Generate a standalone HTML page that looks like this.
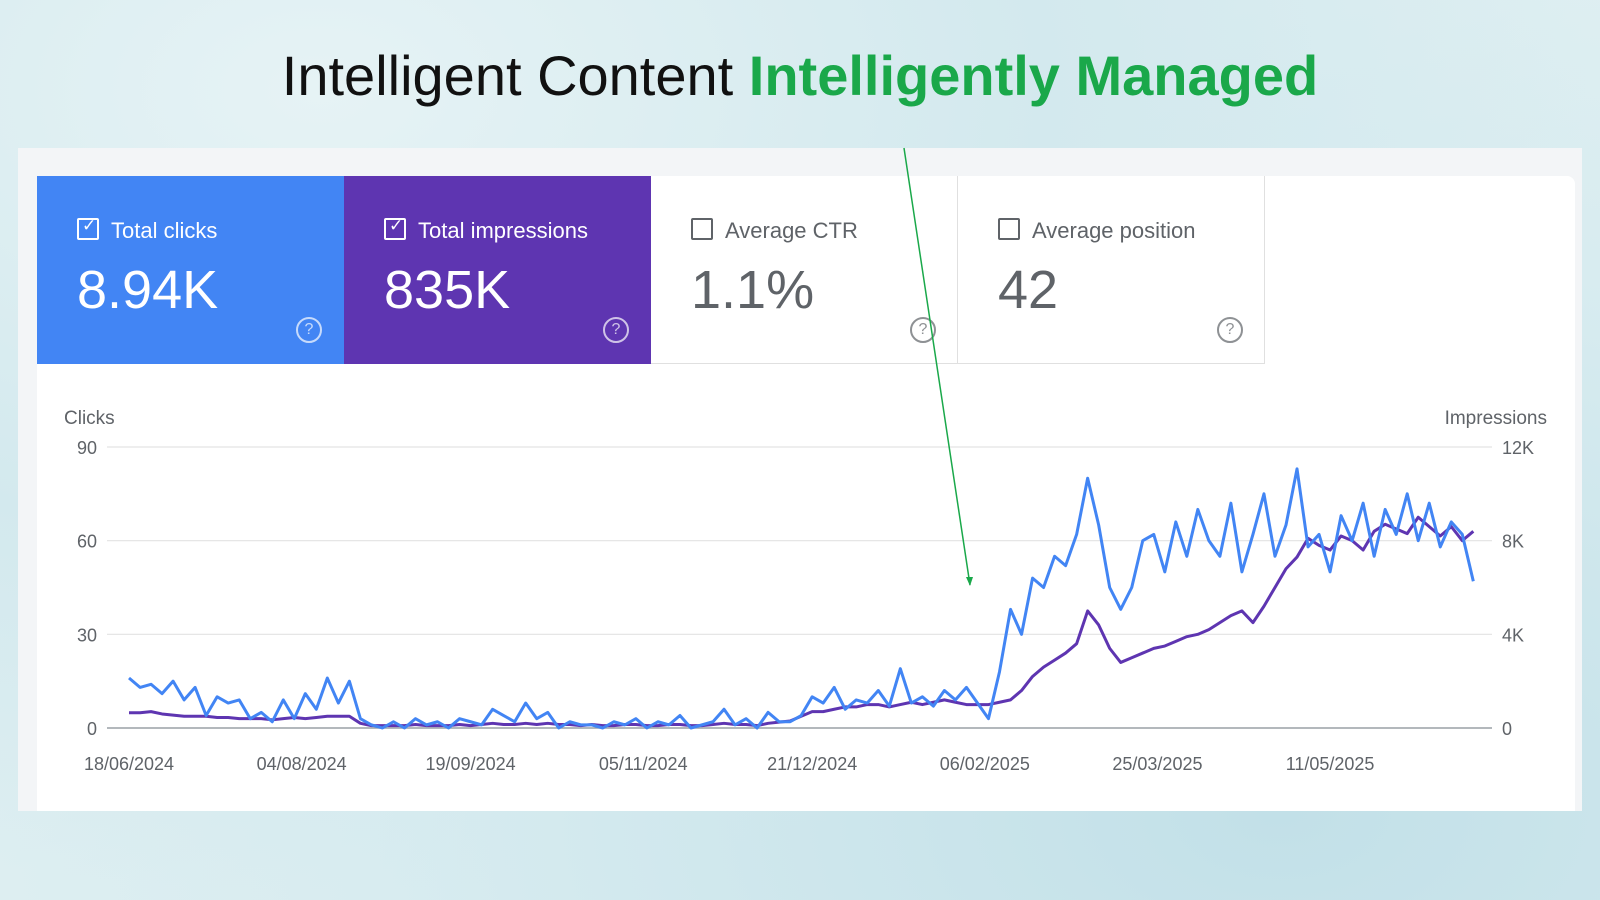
<!DOCTYPE html>
<html><head><meta charset="utf-8">
<style>
body{margin:0;width:1600px;height:900px;overflow:hidden;font-family:"Liberation Sans",sans-serif;
background:radial-gradient(ellipse at 20% 10%,#e6f3f5 0,#d3e9ee 40%,transparent 70%),radial-gradient(ellipse at 80% 90%,#c2e0e8 0,#d8ecf0 50%,#e4f1f3 100%);position:relative}
.title{position:absolute;left:0;width:1600px;top:43px;text-align:center;font-size:56px;color:#111}
.title b{color:#1aa84a}
.panel{position:absolute;left:18px;top:148px;width:1564px;height:663px;background:#f3f5f7}
.card{position:absolute;left:37px;top:176px;width:1538px;height:635px;background:#fff;border-radius:8px 8px 0 0}
.tile{position:absolute;top:176px;width:307px;height:188px;box-sizing:border-box;border-right:1px solid #e0e0e0;border-bottom:1px solid #e0e0e0}
.tile .lab{position:absolute;left:74px;top:42px;font-size:22px}
.tile .cb{position:absolute;left:40px;top:42px;width:18px;height:18px;border:2px solid currentColor;border-radius:2px}
.tile .val{position:absolute;left:40px;top:83px;font-size:54px}
.tile .help{position:absolute;left:259px;top:141px;width:22px;height:22px;border:2px solid currentColor;border-radius:50%;font-size:16px;text-align:center;line-height:22px;opacity:.7}
</style></head><body>
<div class="title">Intelligent Content <b>Intelligently Managed</b></div>
<div class="panel"></div>
<div class="card"></div>
<div class="tile" style="left:37px;background:#4285f4;color:#fff;border:none"><div class="cb"><span style="position:absolute;left:3px;top:-4px;font-size:17px">✓</span></div><div class="lab">Total clicks</div><div class="val">8.94K</div><div class="help">?</div></div>
<div class="tile" style="left:344px;background:#5e35b1;color:#fff;border:none"><div class="cb"><span style="position:absolute;left:3px;top:-4px;font-size:17px">✓</span></div><div class="lab">Total impressions</div><div class="val">835K</div><div class="help">?</div></div>
<div class="tile" style="left:651px;color:#5f6368;background:#fff"><div class="cb"></div><div class="lab">Average CTR</div><div class="val">1.1%</div><div class="help">?</div></div>
<div class="tile" style="left:958px;color:#5f6368;background:#fff"><div class="cb"></div><div class="lab">Average position</div><div class="val">42</div><div class="help">?</div></div>
<svg id="chart" width="1600" height="900" style="position:absolute;left:0;top:0"></svg>
<script>
const clicks=[16,13,14,11,15,9,13,4,10,8,9,3,5,2,9,3,11,6,16,8,15,
3,1,0,2,0,3,1,2,0,3,2,1,6,4,2,8,3,5,0,2,1,1,0,2,1,3,0,2,1,4,0,1,2,6,1,3,0,5,2,2,
4,10,8,13,6,9,8,12,7,19,8,10,7,12,9,13,8,3,18,38,
30,48,45,55,52,62,80,65,45,38,45,60,62,50,66,55,70,60,55,72,50,62,75,55,65,83,58,62,50,68,60,72,55,70,62,75,60,72,58,66,62,47];
const impressions=[0.65,0.65,0.7,0.6,0.55,0.5,0.5,0.5,0.45,0.45,0.4,0.4,0.4,0.35,0.4,0.45,0.4,0.45,0.5,0.5,0.5,
0.2,0.1,0.1,0.1,0.1,0.15,0.1,0.1,0.1,0.15,0.1,0.15,0.2,0.15,0.15,0.2,0.15,0.2,0.15,0.15,0.1,0.15,0.1,0.1,0.15,0.15,0.1,0.1,0.15,0.15,0.1,0.1,0.15,0.2,0.15,0.15,0.1,0.2,0.25,0.3,
0.5,0.7,0.7,0.8,0.9,0.9,1.0,1.0,0.9,1.0,1.1,1.0,1.1,1.2,1.1,1.0,1.0,1.0,1.1,1.2,
1.6,2.2,2.6,2.9,3.2,3.6,5.0,4.4,3.4,2.8,3.0,3.2,3.4,3.5,3.7,3.9,4.0,4.2,4.5,4.8,5.0,4.5,5.2,6.0,6.8,7.3,8.1,7.8,7.6,8.2,8.0,7.6,8.4,8.7,8.5,8.3,9.0,8.6,8.2,8.6,8.0,8.4];
const dateLabels=["18/06/2024","04/08/2024","19/09/2024","05/11/2024","21/12/2024","06/02/2025","25/03/2025","11/05/2025"];
const dateDays=[0,47,93,140,186,233,280,327];
const leftTicks=[0,30,60,90];
const rightTicks=["0","4K","8K","12K"];
const rightTickVals=[0,4,8,12];
const stepDays=3;
const NS="http://www.w3.org/2000/svg";
const svg=document.getElementById('chart');
const X0=129,PXDAY=3.673,Y0=728,Y1=447,PL=107,PR=1492;
const xd=d=>X0+d*PXDAY;
const yl=v=>Y0-(v/90)*(Y0-Y1);
const yr=v=>Y0-(v/12)*(Y0-Y1);
function mk(t,a){const e=document.createElementNS(NS,t);for(const k in a)e.setAttribute(k,a[k]);svg.appendChild(e);return e;}
leftTicks.forEach((v,i)=>{
 const g=mk('line',{x1:PL,x2:PR,y1:yl(v),y2:yl(v),stroke:i==0?'#9aa0a6':'#e3e3e3','stroke-width':i==0?1.5:1.2});
 
 
 const t=mk('text',{x:97,y:yl(v)+7,'text-anchor':'end','font-size':18,fill:'#5f6368'});t.textContent=v;
 
 
});
rightTickVals.forEach((v,i)=>{
 const t=mk('text',{x:1502,y:yr(v)+7,'font-size':18,fill:'#5f6368'});t.textContent=rightTicks[i];
 
 
});
dateLabels.forEach((l,i)=>{
 const t=mk('text',{x:xd(dateDays[i]),y:770,'text-anchor':'middle','font-size':18,fill:'#5f6368'});t.textContent=l;
 
 
});
let t1=mk('text',{x:64,y:424,'font-size':19,fill:'#5f6368'});t1.textContent='Clicks';


let t2=mk('text',{x:1547,y:424,'font-size':19,fill:'#5f6368','text-anchor':'end'});t2.textContent='Impressions';


const p2=mk('polyline',{points:impressions.map((v,i)=>xd(i*stepDays)+','+yr(v)).join(' '),fill:'none',stroke:'#5e35b1','stroke-width':3,'stroke-linejoin':'round'});


const p1=mk('polyline',{points:clicks.map((v,i)=>xd(i*stepDays)+','+yl(v)).join(' '),fill:'none',stroke:'#4285f4','stroke-width':3,'stroke-linejoin':'round'});


const ar=mk('line',{x1:904,y1:148,x2:970,y2:585,stroke:'#1aa84a','stroke-width':1.5});


const ah=mk('polygon',{points:'970,586 966,577 973,577',fill:'#1aa84a'});


</script>
</body></html>
